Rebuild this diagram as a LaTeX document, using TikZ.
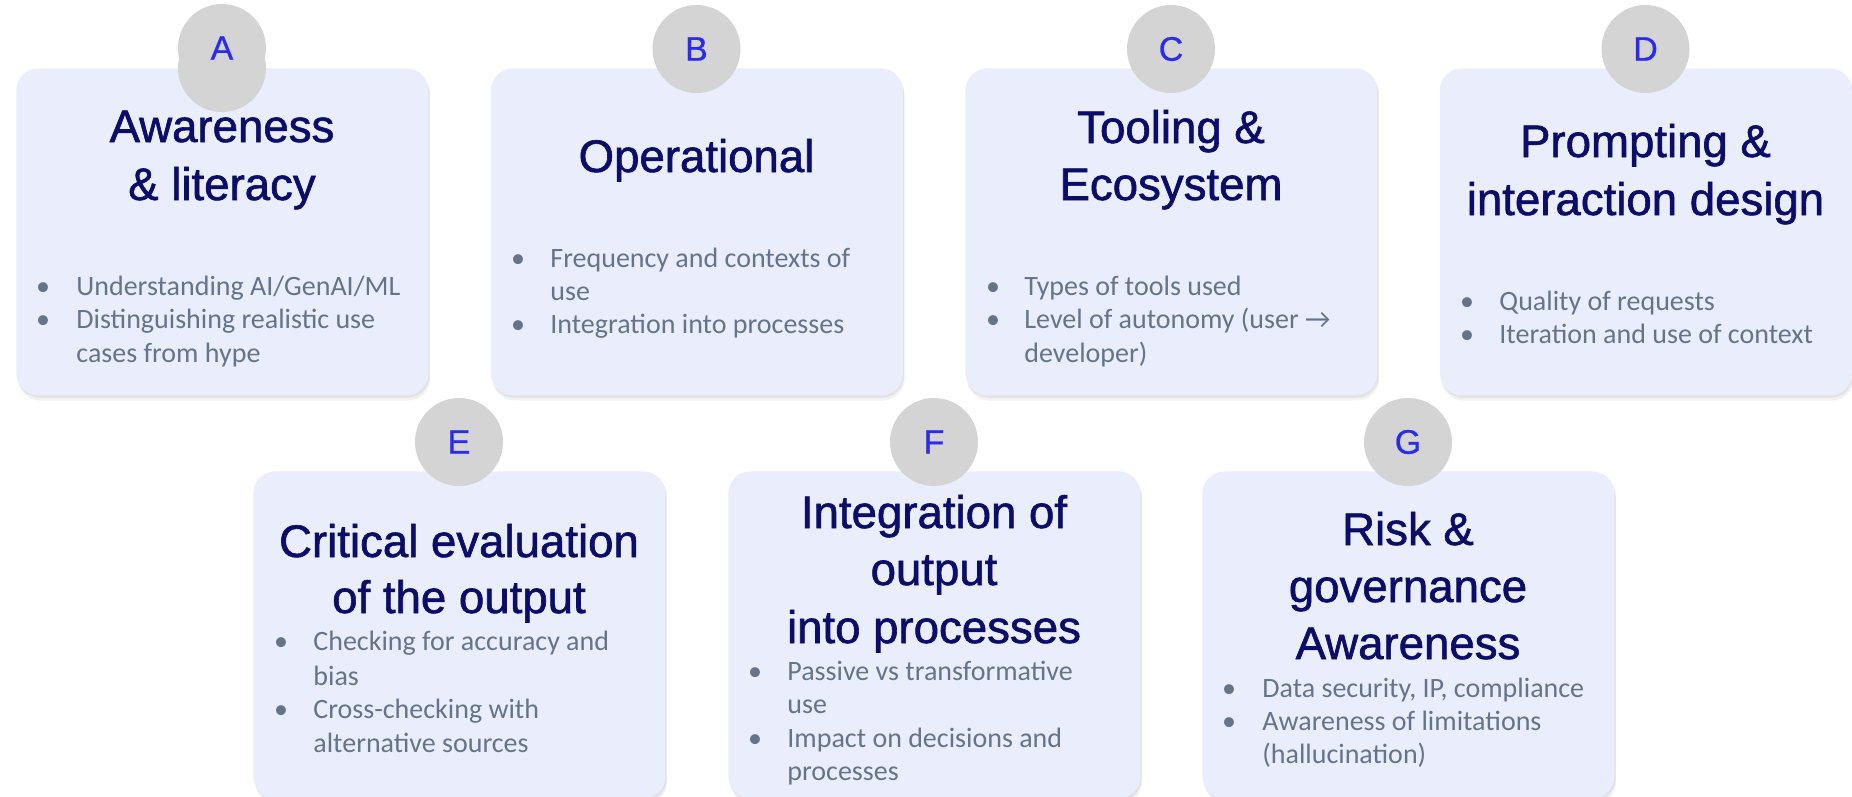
\documentclass[tikz,border=0pt]{standalone}
\usepackage{fontspec}
\setmainfont{Liberation Sans}
\newfontfamily\calib{Carlito}
\newfontfamily\ttlfont[FakeBold=1.3]{Liberation Sans}
\newfontfamily\letfont[FakeBold=0.7]{Liberation Sans}
\usetikzlibrary{shadows}
\definecolor{boxfill}{HTML}{EAEDFC}
\definecolor{badgegray}{HTML}{D4D4D4}
\definecolor{navy}{HTML}{0B0D68}
\definecolor{lettc}{HTML}{2A2AF0}
\definecolor{slate}{HTML}{64748B}
\newcommand\bline[4]{\node[bt] (#1) at (#2,#3) {#4};}
\newcommand\bdot[3]{\node[bd] (#1) at (#2,#3) {•};}
\tikzset{
  cardbox/.style={rectangle, rounded corners=11pt, fill=boxfill, minimum width=206pt,
    minimum height=163.5pt, inner sep=0pt, anchor=north west,
    drop shadow={opacity=0.12, shadow xshift=0.6pt, shadow yshift=-1.2pt},
    drop shadow={opacity=0.10, shadow xshift=0.9pt, shadow yshift=-2.6pt}},
  badgec/.style={circle, fill=badgegray, minimum size=44pt, inner sep=0pt,
    font=\letfont\fontsize{17}{20}\selectfont, text=lettc},
  ttl/.style={font=\ttlfont\fontsize{22.8}{27}\selectfont, text=navy, inner sep=0pt, anchor=base},
  bt/.style={font=\calib\fontsize{14}{17}\selectfont, text=slate, inner sep=0pt, anchor=base west},
  bd/.style={font=\calib\fontsize{14}{17}\selectfont, text=slate, inner sep=0pt, anchor=base}
}
\begin{document}
\begin{tikzpicture}[x=0.5pt, y=-0.5pt]
\useasboundingbox[fill=white] (0,0) rectangle (1852,797);
% cards
\node[cardbox] (boxA) at (16,68) {};
\node[cardbox] (boxB) at (490.5,68) {};
\node[cardbox] (boxC) at (965,68) {};
\node[cardbox] (boxD) at (1439.5,68) {};
\node[cardbox] (boxE) at (253,471) {};
\node[cardbox] (boxF) at (728,471) {};
\node[cardbox] (boxG) at (1202,471) {};
% badges
\node[badgec] (bA2) at (222,68) {};
\node[badgec] (bA) at (222,48) {A};
\node[badgec] (bB) at (696.5,49) {B};
\node[badgec] (bC) at (1171,49) {C};
\node[badgec] (bD) at (1645.5,49) {D};
\node[badgec] (bE) at (459,442) {E};
\node[badgec] (bF) at (934,442) {F};
\node[badgec] (bG) at (1408,442) {G};
% titles
\node[ttl] (tA1) at (222,142) {Awareness};
\node[ttl] (tA2) at (222,200) {\& literacy};
\node[ttl] (tB1) at (696.5,172) {Operational};
\node[ttl] (tC1) at (1171,143) {Tooling \&};
\node[ttl] (tC2) at (1171,200) {Ecosystem};
\node[ttl] (tD1) at (1645.5,157) {Prompting \&};
\node[ttl] (tD2) at (1645.5,215) {interaction design};
\node[ttl] (tE1) at (459,557) {Critical evaluation};
\node[ttl] (tE2) at (459,613) {of the output};
\node[ttl] (tF1) at (934,528) {Integration of};
\node[ttl] (tF2) at (934,585) {output};
\node[ttl] (tF3) at (934,643) {into processes};
\node[ttl] (tG1) at (1408,545) {Risk \&};
\node[ttl] (tG2) at (1408,602) {governance};
\node[ttl] (tG3) at (1408,659) {Awareness};
% bullets A
\bdot{dA1}{43}{295} \bline{lA1}{76}{295}{Understanding AI/GenAI/ML}
\bdot{dA2}{43}{328} \bline{lA2}{76}{328}{Distinguishing realistic use}
\bline{lA3}{76}{362}{cases from hype}
% bullets B
\bdot{dB1}{518}{267} \bline{lB1}{550}{267}{Frequency and contexts of}
\bline{lB2}{550}{300}{use}
\bdot{dB2}{518}{333} \bline{lB3}{550}{333}{Integration into processes}
% bullets C
\bdot{dC1}{993}{295} \bline{lC1}{1024}{295}{Types of tools used}
\bdot{dC2}{993}{328} \bline{lC2}{1024}{328}{Level of autonomy (user →}
\bline{lC3}{1024}{362}{developer)}
% bullets D
\bdot{dD1}{1467}{310} \bline{lD1}{1499}{310}{Quality of requests}
\bdot{dD2}{1467}{343} \bline{lD2}{1499}{343}{Iteration and use of context}
% bullets E
\bdot{dE1}{281}{650} \bline{lE1}{313}{650}{Checking for accuracy and}
\bline{lE2}{313}{685}{bias}
\bdot{dE2}{281}{718} \bline{lE3}{313}{718}{Cross-checking with}
\bline{lE4}{313}{752}{alternative sources}
% bullets F
\bdot{dF1}{755}{680} \bline{lF1}{787}{680}{Passive vs transformative}
\bline{lF2}{787}{713}{use}
\bdot{dF2}{755}{747} \bline{lF3}{787}{747}{Impact on decisions and}
\bline{lF4}{787}{780}{processes}
% bullets G
\bdot{dG1}{1229}{697} \bline{lG1}{1262}{697}{Data security, IP, compliance}
\bdot{dG2}{1229}{730} \bline{lG2}{1262}{730}{Awareness of limitations}
\bline{lG3}{1262}{763}{(hallucination)}
\end{tikzpicture}
\end{document}
